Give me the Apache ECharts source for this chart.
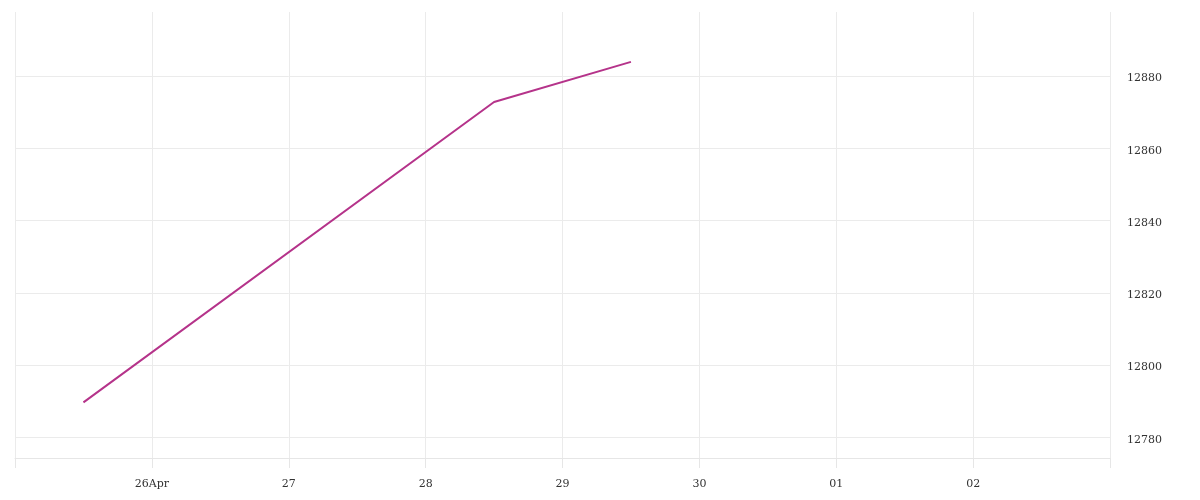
<!DOCTYPE html>
<html>
<head>
<meta charset="utf-8">
<script src="https://cdn.jsdelivr.net/npm/echarts@6/dist/echarts.min.js"></script>
<style>html,body{margin:0;padding:0;background:#fff}#c{width:1200px;height:500px}</style>
</head>
<body>
<div id="c"></div>
<script>
var dates = ['2024-04-25T12:00', '2024-04-28T12:00', '2024-04-29T12:00'];
var values = [12789.7, 12872.8, 12883.9];
var xStart = '2024-04-25';
var xEnd = '2024-05-03';
var yMin = 12774.3, yMax = 12897.7;

function toUTC(s) {
  var p = s.split('T'); var d = p[0].split('-');
  var h = p[1] ? p[1].split(':') : ['0', '0'];
  return Date.UTC(+d[0], +d[1] - 1, +d[2], +h[0], +h[1]);
}
var DAY = 86400000;
var monthNames = ['Jan','Feb','Mar','Apr','May','Jun','Jul','Aug','Sep','Oct','Nov','Dec'];
var firstLabel = toUTC(xStart) + DAY;
var tickColor = '#e6e6e6';

var chart = echarts.init(document.getElementById('c'));
var font = 'DejaVu Serif';
chart.setOption({
  animation: false,
  grid: { left: 15, right: 90, top: 12, bottom: 42, containLabel: false },
  xAxis: {
    type: 'value',
    min: toUTC(xStart), max: toUTC(xEnd), interval: DAY,
    axisLine: { show: true, lineStyle: { color: tickColor, width: 1 } },
    axisTick: { show: true, inside: false, length: 10, lineStyle: { color: tickColor, width: 1 } },
    splitLine: { show: true, lineStyle: { color: '#ebebeb', width: 1 } },
    axisLabel: {
      showMinLabel: false, showMaxLabel: false, margin: 21,
      color: '#333', fontFamily: font, fontSize: 11,
      formatter: function (v) {
        var d = new Date(v); var dd = ('0' + d.getUTCDate()).slice(-2);
        return v === firstLabel ? dd + monthNames[d.getUTCMonth()] : dd;
      }
    }
  },
  yAxis: {
    type: 'value', position: 'right', scale: true,
    min: yMin, max: yMax, splitNumber: 5,
    axisLine: { show: false }, axisTick: { show: false },
    splitLine: { show: true, lineStyle: { color: ['#ebebeb','#ebebeb','#ebebeb','#ebebeb','#ebebeb','#ebebeb','#ebebeb','rgba(0,0,0,0)'], width: 1 } },
    axisLabel: {
      showMinLabel: false, showMaxLabel: false, margin: 17,
      verticalAlign: 'top', lineHeight: 5,
      color: '#333', fontFamily: font, fontSize: 11,
      formatter: function (v) { return String(Math.round(v)); }
    }
  },
  series: [{
    type: 'line', symbol: 'none',
    data: dates.map(function (d, i) { return [toUTC(d), values[i]]; }),
    lineStyle: { color: '#b5338a', width: 2 }
  }]
});

// edge ticks at the x-axis extent, placed through the library's own scale
var edges = [toUTC(xStart), toUTC(xEnd)].map(function (v) {
  var x = Math.round(chart.convertToPixel({ xAxisIndex: 0 }, v)) + 0.5;
  var yb = chart.convertToPixel({ yAxisIndex: 0 }, yMin);
  return { type: 'line', silent: true, z: 0,
    shape: { x1: x, y1: yb, x2: x, y2: yb + 10 },
    style: { stroke: tickColor, lineWidth: 1 } };
});
chart.setOption({ graphic: edges });
</script>
</body>
</html>
